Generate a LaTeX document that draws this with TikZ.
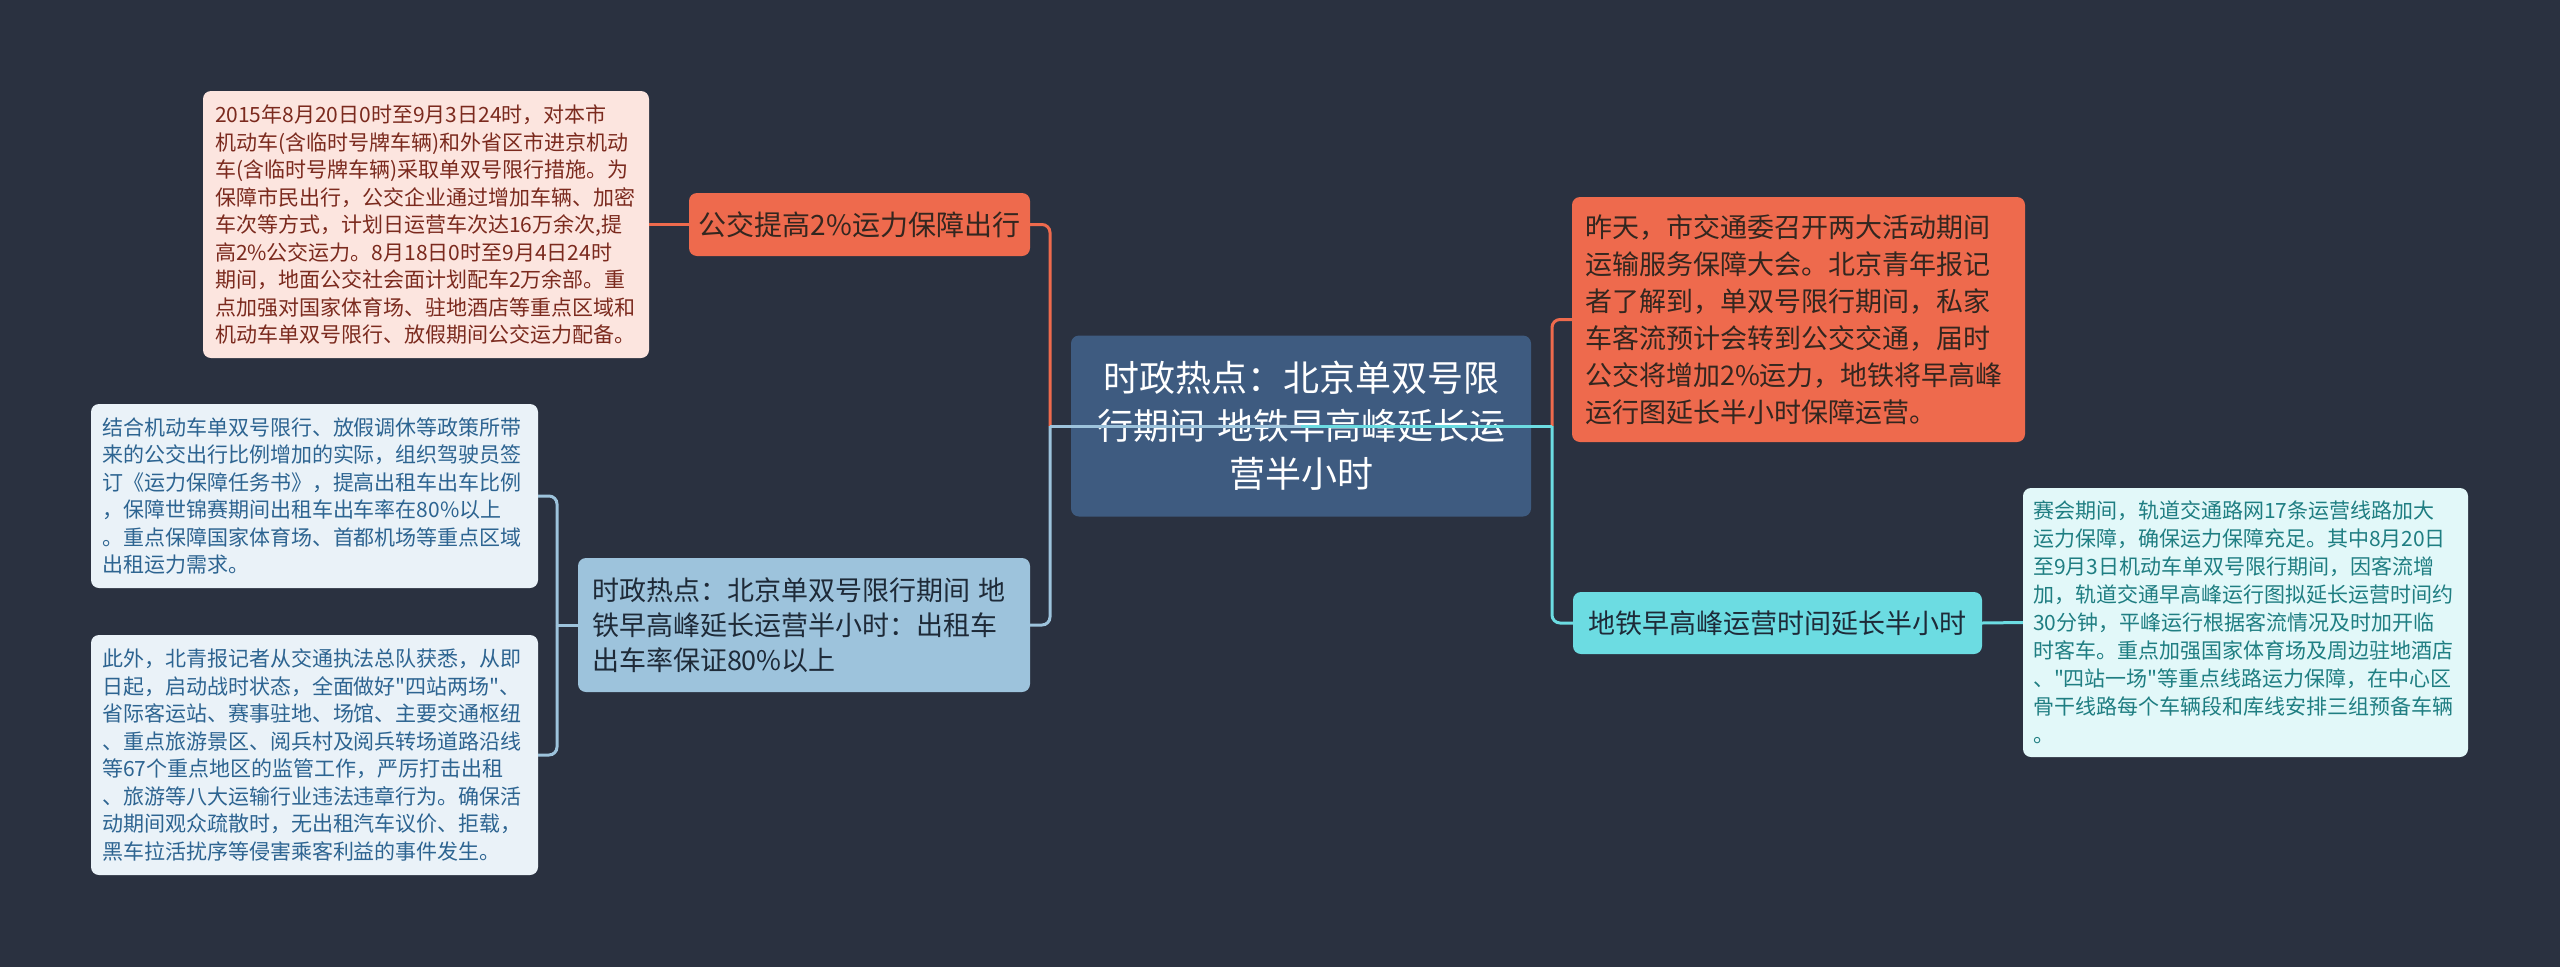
\documentclass[tikz,border=0pt]{standalone}
\usepackage{fontspec}
\setmainfont{Noto Sans CJK SC}[Ligatures=TeXOff]
\definecolor{bg}{HTML}{2A3140}
\definecolor{rootfill}{HTML}{3E5B80}
\definecolor{orangec}{HTML}{EE6A4D}
\definecolor{bluec}{HTML}{9DC3DC}
\definecolor{cyanc}{HTML}{6CDCE2}
\definecolor{pinkfill}{HTML}{FCE5DF}
\definecolor{pinktext}{HTML}{7B2A1E}
\definecolor{paleblue}{HTML}{EAF2F8}
\definecolor{bluetext}{HTML}{2D6491}
\definecolor{palecyan}{HTML}{E2F8F9}
\definecolor{cyantext}{HTML}{1F7E82}
\definecolor{darktext}{HTML}{33261F}
\definecolor{navytext}{HTML}{1E2A38}
\tikzset{
  box/.style={rectangle, rounded corners=8pt, inner ysep=0pt, anchor=center},
  detail/.style={box, align=left, font=\fontsize{21}{27.5}\selectfont},
  topic/.style={box, align=center, font=\fontsize{28}{34}\selectfont},
  conn/.style={line width=3pt},
}
\begin{document}
\begin{tikzpicture}[x=1pt,y=-1pt]
\fill[bg] (0,0) rectangle (2560,967);
\useasboundingbox (0,0) rectangle (2560,967);

% nodes
\node[box, fill=rootfill, text=white, align=center, minimum width=460, minimum height=181,
  text width=430, inner xsep=15pt, font=\fontsize{36}{48}\selectfont] (root) at (1301,426)
  {时政热点：北京单双号限\\行期间 地铁早高峰延长运\\营半小时};

\node[topic, fill=orangec, text=darktext, minimum width=341, minimum height=63] (bus) at (859.5,224.5)
  {公交提高2\%运力保障出行};

\node[detail, fill=pinkfill, text=pinktext, minimum width=446, minimum height=267, inner xsep=12pt, text width=422] (busd) at (426,224.5)
  {2015年8月20日0时至9月3日24时，对本市\\
   机动车(含临时号牌车辆)和外省区市进京机动\\
   车(含临时号牌车辆)采取单双号限行措施。为\\
   保障市民出行，公交企业通过增加车辆、加密\\
   车次等方式，计划日运营车次达16万余次,提\\
   高2\%公交运力。8月18日0时至9月4日24时\\
   期间，地面公交社会面计划配车2万余部。重\\
   点加强对国家体育场、驻地酒店等重点区域和\\
   机动车单双号限行、放假期间公交运力配备。};

\node[box, fill=bluec, text=navytext, align=left, minimum width=452, minimum height=134, inner xsep=14pt, text width=424,
  font=\fontsize{27}{35}\selectfont] (taxi) at (804,625)
  {时政热点：北京单双号限行期间 地\\
   铁早高峰延长运营半小时：出租车\\
   出车率保证80\%以上};

\node[detail, fill=paleblue, text=bluetext, minimum width=447, minimum height=184, inner xsep=11pt, text width=425] (taxia) at (314.5,496)
  {结合机动车单双号限行、放假调休等政策所带\\
   来的公交出行比例增加的实际，组织驾驶员签\\
   订《运力保障任务书》，提高出租车出车比例\\
   ，保障世锦赛期间出租车出车率在80\%以上\\
   。重点保障国家体育场、首都机场等重点区域\\
   出租运力需求。};

\node[detail, fill=paleblue, text=bluetext, minimum width=447, minimum height=240, inner xsep=11pt, text width=425] (taxib) at (314.5,755)
  {此外，北青报记者从交通执法总队获悉，从即\\
   日起，启动战时状态，全面做好"四站两场"、\\
   省际客运站、赛事驻地、场馆、主要交通枢纽\\
   、重点旅游景区、阅兵村及阅兵转场道路沿线\\
   等67个重点地区的监管工作，严厉打击出租\\
   、旅游等八大运输行业违法违章行为。确保活\\
   动期间观众疏散时，无出租汽车议价、拒载，\\
   黑车拉活扰序等侵害乘客利益的事件发生。};

\node[box, fill=orangec, text=darktext, align=left, minimum width=453, minimum height=245, inner xsep=13pt, text width=427,
  font=\fontsize{27}{37}\selectfont] (news) at (1798.5,319.5)
  {昨天，市交通委召开两大活动期间\\
   运输服务保障大会。北京青年报记\\
   者了解到，单双号限行期间，私家\\
   车客流预计会转到公交交通，届时\\
   公交将增加2\%运力，地铁将早高峰\\
   运行图延长半小时保障运营。};

\node[topic, fill=cyanc, text=navytext, minimum width=409, minimum height=62, font=\fontsize{27}{33}\selectfont] (subway) at (1777.5,623)
  {地铁早高峰运营时间延长半小时};

\node[detail, fill=palecyan, text=cyantext, minimum width=445, minimum height=269, inner xsep=10pt, text width=425,
  font=\fontsize{21}{28}\selectfont] (subwayd) at (2245.5,622.5)
  {赛会期间，轨道交通路网17条运营线路加大\\
   运力保障，确保运力保障充足。其中8月20日\\
   至9月3日机动车单双号限行期间，因客流增\\
   加，轨道交通早高峰运行图拟延长运营时间约\\
   30分钟，平峰运行根据客流情况及时加开临\\
   时客车。重点加强国家体育场及周边驻地酒店\\
   、"四站一场"等重点线路运力保障，在中心区\\
   骨干线路每个车辆段和库线安排三组预备车辆\\
   。};

% junction coordinates
\coordinate (jl) at (1050,426);
\coordinate (jr) at (1552,426);
\coordinate (jt) at (557,625);

% connectors
\draw[conn, orangec] (root.center) -- (jl);
\draw[conn, orangec, rounded corners=8pt] (jl) -- (jl |- bus.east) -- (bus.east);
\draw[conn, bluec] (root.center) -- (jl);
\draw[conn, bluec, rounded corners=8pt] (jl) -- (jl |- taxi.east) -- (taxi.east);

\draw[conn, orangec] (root.center) -- (jr);
\draw[conn, orangec, rounded corners=8pt] (jr) -- (jr |- news.west) -- (news.west);
\draw[conn, cyanc] (root.center) -- (jr);
\draw[conn, cyanc, rounded corners=8pt] (jr) -- (jr |- subway.west) -- (subway.west);

\draw[conn, orangec] (bus.west) -- (busd.east);
\draw[conn, cyanc] (subway.east) -- (subwayd.west);

\draw[conn, bluec] (taxi.west) -- (jt);
\draw[conn, bluec, rounded corners=8pt] (jt) -- (jt |- taxia.east) -- (taxia.east);
\draw[conn, bluec, rounded corners=8pt] (jt) -- (jt |- taxib.east) -- (taxib.east);
\end{tikzpicture}
\end{document}
